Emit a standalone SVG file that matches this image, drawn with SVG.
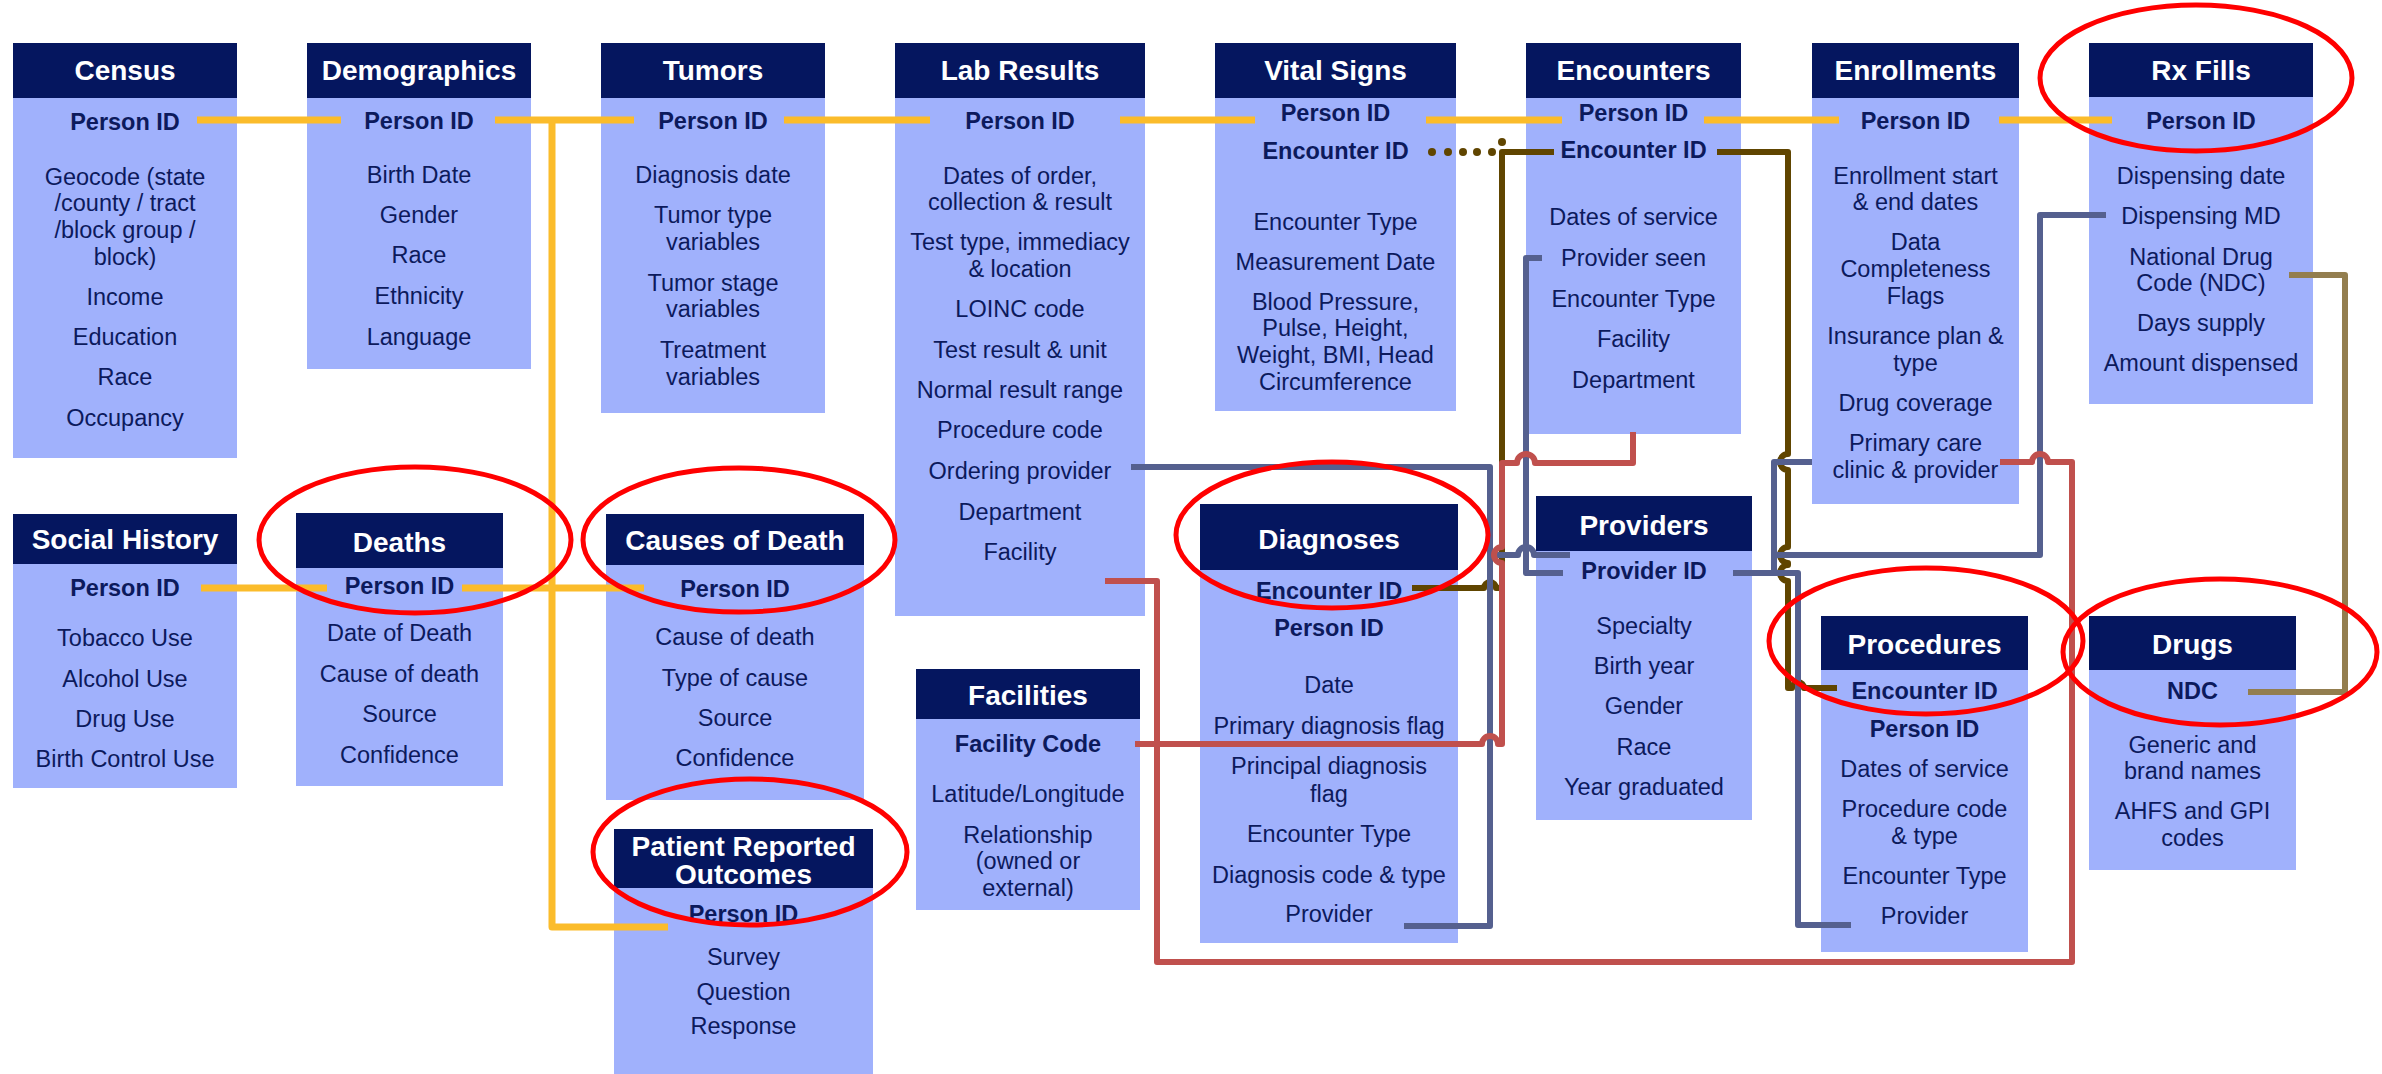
<svg xmlns="http://www.w3.org/2000/svg" width="2382" height="1074" viewBox="0 0 2382 1074">
<style>
  .hd { fill: #05165F; }
  .bd { fill: #A0B1FC; }
  text { font-family: "Liberation Sans", Arial, sans-serif; text-anchor: middle; }
  .t { fill: #FFFFFF; font-size: 28px; font-weight: bold; }
  .k { fill: #0C1A5C; font-size: 23.5px; font-weight: bold; }
  .f { fill: #0C1A5C; font-size: 23.5px; }
  .ln { fill: none; stroke-width: 6; stroke-linejoin: round; stroke-linecap: butt; }
  .yl { stroke: #FBBC2B; stroke-width: 7; }
  .br { stroke: #604500; }
  .bl { stroke: #55608F; }
  .rd { stroke: #C0504D; }
  .tn { stroke: #937E4F; }
  .ring { fill: none; stroke: #FF0000; stroke-width: 5; }
</style>
<rect width="2382" height="1074" fill="#FFFFFF"/>

<!-- tables -->
<g id="census">
  <rect class="bd" x="13" y="98" width="224" height="360"/>
  <rect class="hd" x="13" y="43" width="224" height="55"/>
  <text class="t" x="125" y="80">Census</text>
  <text class="k" x="125" y="130">Person ID</text>
  <text class="f" x="125" y="185">Geocode (state</text>
  <text class="f" x="125" y="211">/county / tract</text>
  <text class="f" x="125" y="238">/block group /</text>
  <text class="f" x="125" y="265">block)</text>
  <text class="f" x="125" y="305">Income</text>
  <text class="f" x="125" y="345">Education</text>
  <text class="f" x="125" y="385">Race</text>
  <text class="f" x="125" y="426">Occupancy</text>
</g>

<g id="demographics">
  <rect class="bd" x="307" y="98" width="224" height="271"/>
  <rect class="hd" x="307" y="43" width="224" height="55"/>
  <text class="t" x="419" y="80">Demographics</text>
  <text class="k" x="419" y="129">Person ID</text>
  <text class="f" x="419" y="183">Birth Date</text>
  <text class="f" x="419" y="223">Gender</text>
  <text class="f" x="419" y="263">Race</text>
  <text class="f" x="419" y="304">Ethnicity</text>
  <text class="f" x="419" y="345">Language</text>
</g>

<g id="tumors">
  <rect class="bd" x="601" y="98" width="224" height="315"/>
  <rect class="hd" x="601" y="43" width="224" height="55"/>
  <text class="t" x="713" y="80">Tumors</text>
  <text class="k" x="713" y="129">Person ID</text>
  <text class="f" x="713" y="183">Diagnosis date</text>
  <text class="f" x="713" y="223">Tumor type</text>
  <text class="f" x="713" y="250">variables</text>
  <text class="f" x="713" y="291">Tumor stage</text>
  <text class="f" x="713" y="317">variables</text>
  <text class="f" x="713" y="358">Treatment</text>
  <text class="f" x="713" y="385">variables</text>
</g>

<g id="lab-results">
  <rect class="bd" x="895" y="98" width="250" height="518"/>
  <rect class="hd" x="895" y="43" width="250" height="55"/>
  <text class="t" x="1020" y="80">Lab Results</text>
  <text class="k" x="1020" y="129">Person ID</text>
  <text class="f" x="1020" y="184">Dates of order,</text>
  <text class="f" x="1020" y="210">collection &amp; result</text>
  <text class="f" x="1020" y="250">Test type, immediacy</text>
  <text class="f" x="1020" y="277">&amp; location</text>
  <text class="f" x="1020" y="317">LOINC code</text>
  <text class="f" x="1020" y="358">Test result &amp; unit</text>
  <text class="f" x="1020" y="398">Normal result range</text>
  <text class="f" x="1020" y="438">Procedure code</text>
  <text class="f" x="1020" y="479">Ordering provider</text>
  <text class="f" x="1020" y="520">Department</text>
  <text class="f" x="1020" y="560">Facility</text>
</g>

<g id="vital-signs">
  <rect class="bd" x="1215" y="98" width="241" height="313"/>
  <rect class="hd" x="1215" y="43" width="241" height="55"/>
  <text class="t" x="1335.5" y="80">Vital Signs</text>
  <text class="k" x="1335.5" y="121">Person ID</text>
  <text class="k" x="1335.5" y="159">Encounter ID</text>
  <text class="f" x="1335.5" y="230">Encounter Type</text>
  <text class="f" x="1335.5" y="270">Measurement Date</text>
  <text class="f" x="1335.5" y="310">Blood Pressure,</text>
  <text class="f" x="1335.5" y="336">Pulse, Height,</text>
  <text class="f" x="1335.5" y="363">Weight, BMI, Head</text>
  <text class="f" x="1335.5" y="390">Circumference</text>
</g>

<g id="encounters">
  <rect class="bd" x="1526" y="98" width="215" height="336"/>
  <rect class="hd" x="1526" y="43" width="215" height="55"/>
  <text class="t" x="1633.5" y="80">Encounters</text>
  <text class="k" x="1633.5" y="121">Person ID</text>
  <text class="k" x="1633.5" y="158">Encounter ID</text>
  <text class="f" x="1633.5" y="225">Dates of service</text>
  <text class="f" x="1633.5" y="266">Provider seen</text>
  <text class="f" x="1633.5" y="307">Encounter Type</text>
  <text class="f" x="1633.5" y="347">Facility</text>
  <text class="f" x="1633.5" y="388">Department</text>
</g>

<g id="enrollments">
  <rect class="bd" x="1812" y="98" width="207" height="406"/>
  <rect class="hd" x="1812" y="43" width="207" height="55"/>
  <text class="t" x="1915.5" y="80">Enrollments</text>
  <text class="k" x="1915.5" y="129">Person ID</text>
  <text class="f" x="1915.5" y="184">Enrollment start</text>
  <text class="f" x="1915.5" y="210">&amp; end dates</text>
  <text class="f" x="1915.5" y="250">Data</text>
  <text class="f" x="1915.5" y="277">Completeness</text>
  <text class="f" x="1915.5" y="304">Flags</text>
  <text class="f" x="1915.5" y="344">Insurance plan &amp;</text>
  <text class="f" x="1915.5" y="371">type</text>
  <text class="f" x="1915.5" y="411">Drug coverage</text>
  <text class="f" x="1915.5" y="451">Primary care</text>
  <text class="f" x="1915.5" y="478">clinic &amp; provider</text>
</g>

<g id="rx-fills">
  <rect class="bd" x="2089" y="97" width="224" height="307"/>
  <rect class="hd" x="2089" y="43" width="224" height="54"/>
  <text class="t" x="2201" y="80">Rx Fills</text>
  <text class="k" x="2201" y="129">Person ID</text>
  <text class="f" x="2201" y="184">Dispensing date</text>
  <text class="f" x="2201" y="224">Dispensing MD</text>
  <text class="f" x="2201" y="265">National Drug</text>
  <text class="f" x="2201" y="291">Code (NDC)</text>
  <text class="f" x="2201" y="331">Days supply</text>
  <text class="f" x="2201" y="371">Amount dispensed</text>
</g>

<g id="social-history">
  <rect class="bd" x="13" y="564" width="224" height="224"/>
  <rect class="hd" x="13" y="514" width="224" height="50"/>
  <text class="t" x="125" y="549">Social History</text>
  <text class="k" x="125" y="596">Person ID</text>
  <text class="f" x="125" y="646">Tobacco Use</text>
  <text class="f" x="125" y="687">Alcohol Use</text>
  <text class="f" x="125" y="727">Drug Use</text>
  <text class="f" x="125" y="767">Birth Control Use</text>
</g>

<g id="deaths">
  <rect class="bd" x="296" y="568" width="207" height="218"/>
  <rect class="hd" x="296" y="513" width="207" height="55"/>
  <text class="t" x="399.5" y="552">Deaths</text>
  <text class="k" x="399.5" y="594">Person ID</text>
  <text class="f" x="399.5" y="641">Date of Death</text>
  <text class="f" x="399.5" y="682">Cause of death</text>
  <text class="f" x="399.5" y="722">Source</text>
  <text class="f" x="399.5" y="763">Confidence</text>
</g>

<g id="causes-of-death">
  <rect class="bd" x="606" y="565" width="258" height="235"/>
  <rect class="hd" x="606" y="514" width="258" height="51"/>
  <text class="t" x="735" y="550">Causes of Death</text>
  <text class="k" x="735" y="597">Person ID</text>
  <text class="f" x="735" y="645">Cause of death</text>
  <text class="f" x="735" y="686">Type of cause</text>
  <text class="f" x="735" y="726">Source</text>
  <text class="f" x="735" y="766">Confidence</text>
</g>

<g id="patient-reported-outcomes">
  <rect class="bd" x="614" y="888" width="259" height="186"/>
  <rect class="hd" x="614" y="829" width="259" height="59"/>
  <text class="t" x="743.5" y="856">Patient Reported</text>
  <text class="t" x="743.5" y="884">Outcomes</text>
  <text class="k" x="743.5" y="922">Person ID</text>
  <text class="f" x="743.5" y="965">Survey</text>
  <text class="f" x="743.5" y="1000">Question</text>
  <text class="f" x="743.5" y="1034">Response</text>
</g>

<g id="facilities">
  <rect class="bd" x="916" y="719" width="224" height="191"/>
  <rect class="hd" x="916" y="669" width="224" height="50"/>
  <text class="t" x="1028" y="705">Facilities</text>
  <text class="k" x="1028" y="752">Facility Code</text>
  <text class="f" x="1028" y="802">Latitude/Longitude</text>
  <text class="f" x="1028" y="843">Relationship</text>
  <text class="f" x="1028" y="869">(owned or</text>
  <text class="f" x="1028" y="896">external)</text>
</g>

<g id="diagnoses">
  <rect class="bd" x="1200" y="570" width="258" height="373"/>
  <rect class="hd" x="1200" y="504" width="258" height="66"/>
  <text class="t" x="1329" y="549">Diagnoses</text>
  <text class="k" x="1329" y="599">Encounter ID</text>
  <text class="k" x="1329" y="636">Person ID</text>
  <text class="f" x="1329" y="693">Date</text>
  <text class="f" x="1329" y="734">Primary diagnosis flag</text>
  <text class="f" x="1329" y="774">Principal diagnosis</text>
  <text class="f" x="1329" y="802">flag</text>
  <text class="f" x="1329" y="842">Encounter Type</text>
  <text class="f" x="1329" y="883">Diagnosis code &amp; type</text>
  <text class="f" x="1329" y="922">Provider</text>
</g>

<g id="providers">
  <rect class="bd" x="1536" y="551" width="216" height="269"/>
  <rect class="hd" x="1536" y="496" width="216" height="55"/>
  <text class="t" x="1644" y="535">Providers</text>
  <text class="k" x="1644" y="579">Provider ID</text>
  <text class="f" x="1644" y="634">Specialty</text>
  <text class="f" x="1644" y="674">Birth year</text>
  <text class="f" x="1644" y="714">Gender</text>
  <text class="f" x="1644" y="755">Race</text>
  <text class="f" x="1644" y="795">Year graduated</text>
</g>

<g id="procedures">
  <rect class="bd" x="1821" y="670" width="207" height="282"/>
  <rect class="hd" x="1821" y="616" width="207" height="54"/>
  <text class="t" x="1924.5" y="654">Procedures</text>
  <text class="k" x="1924.5" y="699">Encounter ID</text>
  <text class="k" x="1924.5" y="737">Person ID</text>
  <text class="f" x="1924.5" y="777">Dates of service</text>
  <text class="f" x="1924.5" y="817">Procedure code</text>
  <text class="f" x="1924.5" y="844">&amp; type</text>
  <text class="f" x="1924.5" y="884">Encounter Type</text>
  <text class="f" x="1924.5" y="924">Provider</text>
</g>

<g id="drugs">
  <rect class="bd" x="2089" y="670" width="207" height="200"/>
  <rect class="hd" x="2089" y="616" width="207" height="54"/>
  <text class="t" x="2192.5" y="654">Drugs</text>
  <text class="k" x="2192.5" y="699">NDC</text>
  <text class="f" x="2192.5" y="753">Generic and</text>
  <text class="f" x="2192.5" y="779">brand names</text>
  <text class="f" x="2192.5" y="819">AHFS and GPI</text>
  <text class="f" x="2192.5" y="846">codes</text>
</g>

<!-- key links -->
<g id="connectors">
  <!-- Person ID -->
  <path class="ln yl" d="M197,120 H341"/>
  <path class="ln yl" d="M495,120 H634"/>
  <path class="ln yl" d="M552,120 V927 H668"/>
  <path class="ln yl" d="M201,588 H327"/>
  <path class="ln yl" d="M462,588 H644"/>
  <path class="ln yl" d="M784,120 H930"/>
  <path class="ln yl" d="M1120,120 H1255"/>
  <path class="ln yl" d="M1426,120 H1562"/>
  <path class="ln yl" d="M1704,120 H1839"/>
  <path class="ln yl" d="M1999,120 H2112"/>

  <!-- Encounter ID -->
  <g fill="#604500">
    <circle cx="1432" cy="152" r="4"/>
    <circle cx="1448" cy="152" r="4"/>
    <circle cx="1463" cy="152" r="4"/>
    <circle cx="1477" cy="152" r="4"/>
    <circle cx="1492" cy="152" r="4"/>
    <circle cx="1502" cy="142" r="4"/>
  </g>
  <path class="ln br" d="M1412,588 H1484 a6,6 0 0 1 12,0 H1502 V152 H1554"/>
  <path class="ln br" d="M1717,152 H1788 V454 a8,8 0 0 0 0,16 V547 a8,8 0 0 0 0,16 V565 a8,8 0 0 0 0,16 V688 H1792 a6,6 0 0 1 12,0 H1837"/>

  <!-- Provider -->
  <path class="ln bl" d="M1131,467 H1490 V926 H1404"/>
  <path class="ln bl" d="M1490,555 H1518 a8,8 0 0 1 16,0 H1570"/>
  <path class="ln bl" d="M1542,258 H1526 V573 H1563"/>
  <path class="ln bl" d="M1733,573 H1798 V925 H1851"/>
  <path class="ln bl" d="M1812,462 H1774 V573"/>
  <path class="ln bl" d="M2106,215 H2040 V555 H1774"/>

  <!-- Facility -->
  <path class="ln rd" d="M1633,432 V463 H1535 a9,9 0 0 0 -18,0 H1502 V547 a8,8 0 0 0 0,16 V744 H1498 a8,8 0 0 0 -16,0 H1135"/>
  <path class="ln rd" d="M1105,581 H1157 V962 H2072 V462 H2048 a8,8 0 0 0 -16,0 H2000"/>

  <!-- NDC -->
  <path class="ln tn" d="M2289,275 H2345 V692 H2248"/>
</g>

<!-- highlight rings -->
<g id="highlights">
  <ellipse class="ring" cx="2196" cy="78" rx="156" ry="73"/>
  <ellipse class="ring" cx="415" cy="540" rx="156" ry="73"/>
  <ellipse class="ring" cx="739" cy="540" rx="156" ry="72"/>
  <ellipse class="ring" cx="750" cy="852" rx="157" ry="73"/>
  <ellipse class="ring" cx="1332" cy="535" rx="156" ry="73"/>
  <ellipse class="ring" cx="1926" cy="641" rx="157" ry="73"/>
  <ellipse class="ring" cx="2220" cy="652" rx="157" ry="73"/>
</g>
</svg>
